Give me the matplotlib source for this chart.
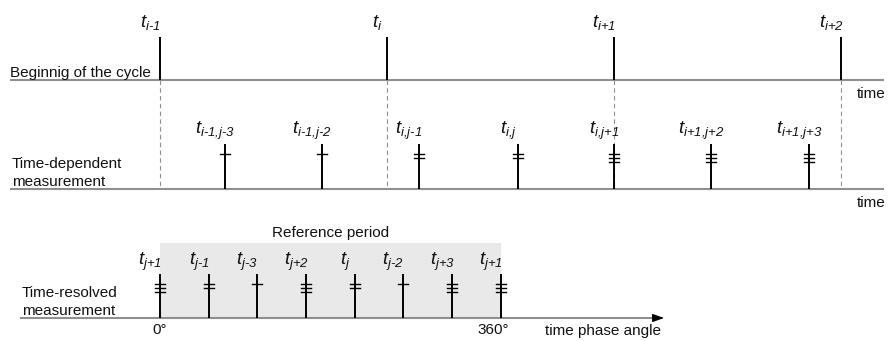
import matplotlib
matplotlib.use("Agg")
import matplotlib.pyplot as plt
from matplotlib.patches import Rectangle

plt.rcParams['font.family'] = ['Liberation Sans', 'DejaVu Sans']
plt.rcParams['mathtext.fontset'] = 'custom'
plt.rcParams['mathtext.rm'] = 'Liberation Sans:italic'
plt.rcParams['mathtext.it'] = 'Liberation Sans:italic'
plt.rcParams['mathtext.bf'] = 'Liberation Sans:italic'

# ---- data (positions along the horizontal axes) ----
cycle_labels = ['i-1', 'i', 'i+1', 'i+2']
cycle_x = [160, 387, 614, 841]

meas_labels = ['i-1,j-3', 'i-1,j-2', 'i,j-1', 'i,j', 'i,j+1', 'i+1,j+2', 'i+1,j+3']
meas_x = [225, 322, 419, 518, 614, 711, 809]
meas_ticks = [1, 1, 2, 2, 3, 3, 3]

res_labels = ['j+1', 'j-1', 'j-3', 'j+2', 'j', 'j-2', 'j+3', 'j+1']
res_x = [160, 209, 257, 306, 355, 403, 452, 501]
res_ticks = [3, 2, 1, 3, 2, 1, 3, 3]

period_labels = ['0°', '360°']

# ---- style ----
GRAY = '#8f8f8f'
TXT = '#111111'
W, H = 888, 341

fig = plt.figure(figsize=(W / 100, H / 100), dpi=100)
ax = fig.add_axes([0, 0, 1, 1])
ax.set_xlim(0, W)
ax.set_ylim(H, 0)
ax.axis('off')

y_top, y_mid, y_bot = 80, 189, 318


def axis_line(x0, x1, y):
    ax.plot([x0, x1 - 6], [y, y], color=GRAY, lw=1.5, solid_capstyle='butt', zorder=2)
    ax.annotate('', xy=(x1, y), xytext=(x1 - 8, y),
                arrowprops=dict(arrowstyle='-|>,head_length=0.7,head_width=0.25',
                                color='black', lw=0.8, shrinkA=0, shrinkB=0), zorder=3)


def sub_label(x, y, sub):
    ax.text(x - 10, y, r'$t_{\text{' + sub + '}}$', ha='center', va='baseline',
            fontsize=13.5, color=TXT)


def stem(x, top, bottom, nticks):
    ax.plot([x, x], [top, bottom], color='black', lw=1.4, solid_capstyle='butt', zorder=4)
    for k in range(nticks):
        yy = top + 10 + 4 * k
        ax.plot([x - 5, x + 5], [yy, yy], color='black', lw=1.0, zorder=4)


# top: beginning of the cycle
axis_line(10, 890, y_top)
ax.text(10, 77, 'Beginnig of the cycle', fontsize=11, color=TXT, ha='left', va='baseline')
ax.text(886, 98, 'time', fontsize=11, color=TXT, ha='right', va='baseline')
for lab, x in zip(cycle_labels, cycle_x):
    ax.plot([x, x], [37, y_top], color='black', lw=1.4, solid_capstyle='butt', zorder=4)
    ax.plot([x, x], [y_top, y_mid], color=GRAY, lw=0.8, ls=(0, (4, 3)), zorder=1)
    sub_label(x, 27, lab)

# middle: time-dependent measurement
axis_line(10, 890, y_mid)
ax.text(12, 168, 'Time-dependent', fontsize=11, color=TXT, ha='left', va='baseline')
ax.text(12, 186, 'measurement', fontsize=11, color=TXT, ha='left', va='baseline')
ax.text(886, 207, 'time', fontsize=11, color=TXT, ha='right', va='baseline')
for lab, x, n in zip(meas_labels, meas_x, meas_ticks):
    stem(x, 144, y_mid, n)
    sub_label(x, 134, lab)

# bottom: time-resolved measurement
ax.add_patch(Rectangle((res_x[0], 243), res_x[-1] - res_x[0], y_bot - 243,
                       facecolor='#e9e9e9', edgecolor='none', zorder=0))
axis_line(20, 664, y_bot)
ax.text((res_x[0] + res_x[-1]) / 2, 237, 'Reference period', fontsize=11, color=TXT,
        ha='center', va='baseline')
ax.text(22, 297, 'Time-resolved', fontsize=11, color=TXT, ha='left', va='baseline')
ax.text(22, 315, 'measurement', fontsize=11, color=TXT, ha='left', va='baseline')
ax.text(res_x[0], 334, period_labels[0], fontsize=11, color=TXT, ha='center', va='baseline')
ax.text(res_x[-1] - 8, 334, period_labels[1], fontsize=11, color=TXT, ha='center', va='baseline')
ax.text(545, 335, 'time phase angle', fontsize=11, color=TXT, ha='left', va='baseline')
for lab, x, n in zip(res_labels, res_x, res_ticks):
    stem(x, 274, y_bot, n)
    sub_label(x, 265, lab)

fig.savefig('out.png', dpi=100)
